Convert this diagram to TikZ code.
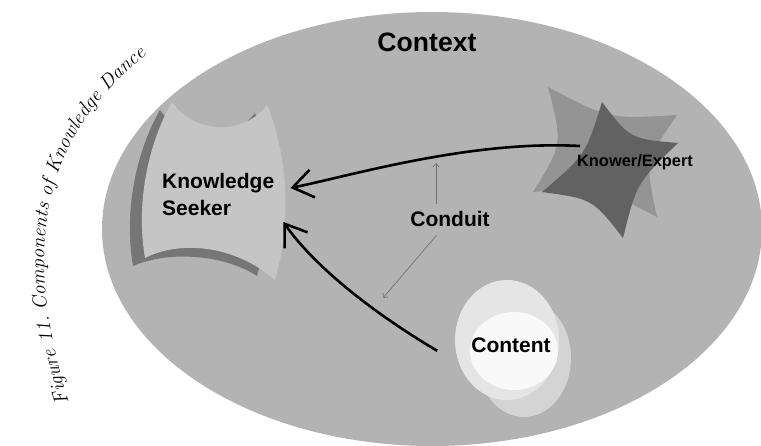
\documentclass[tikz,border=0pt]{standalone}
\usepackage{fontspec}
\setsansfont{Liberation Sans}
\usetikzlibrary{arrows.meta,decorations.text}

\definecolor{contextgray}{RGB}{179,179,179}
\definecolor{seekerlight}{RGB}{197,197,197}
\definecolor{seekerdark}{RGB}{118,118,118}
\definecolor{starlight}{RGB}{148,148,148}
\definecolor{stardark}{RGB}{98,98,98}
\definecolor{contentmid}{RGB}{212,212,212}
\definecolor{contentlight}{RGB}{229,229,229}
\definecolor{contentwhite}{RGB}{249,249,249}
\definecolor{conduitgray}{RGB}{115,115,115}

\newcommand\capfont{\fontsize{20}{20}\selectfont\itshape}

\begin{document}
\begin{tikzpicture}[x=1pt, y=-1pt,
    partlabel/.style={font=\sffamily\bfseries\fontsize{21}{27}\selectfont, inner sep=0pt},
    flow/.style={line width=2.6pt, -{Straight Barb[length=20pt, width=28pt]}},
    conduitarrow/.style={conduitgray, line width=0.7pt, -{Straight Barb[length=3.5pt, width=6pt]}}]
    \useasboundingbox (0,0) rectangle (761,446);

    % Draw the context ellipse
    \fill[contextgray] (432,229) ellipse [x radius=330, y radius=217];

    % Draw the seeker sheet (dark copy behind gives the rim)
    \fill[seekerdark] (160,110) .. controls (183,143) and (233,143) .. (255,113)
        .. controls (270,160) and (270,230) .. (257,276) .. controls (225,255) and (170,250) .. (133,266)
        .. controls (123,208) and (138,148) .. cycle;
    \fill[seekerlight] (172,102) .. controls (195,135) and (245,135) .. (267,105)
        .. controls (290,160) and (290,230) .. (275,280) .. controls (235,245) and (180,240) .. (145,258)
        .. controls (135,200) and (150,140) .. cycle;

    % Draw the two expert stars
    \fill[starlight] (548,87) .. controls (609.5,119.2) .. (677,115) .. controls (645,161.5) .. (657,217)
        .. controls (598.2,186.5) .. (533,192) .. controls (562.7,144.2) .. cycle;
    \fill[stardark] (602,102) .. controls (629.9,138.8) .. (678,143) .. controls (636.7,183) .. (623,238)
        .. controls (592.5,198.9) .. (542,192) .. controls (585.7,154.7) .. cycle;

    % Draw the content ellipses
    \fill[contentmid] (524,358) ellipse [x radius=47, y radius=59];
    \fill[contentlight] (507,340) ellipse [x radius=52, y radius=60];
    \fill[contentwhite] (514,351) ellipse [x radius=44, y radius=39];

    % Labels
    \node[partlabel, font=\sffamily\bfseries\fontsize{26.6}{30}\selectfont, anchor=base] (context) at (427,52) {Context};
    \node[partlabel, align=left, anchor=west] (seeker) at (162,194) {Knowledge\\Seeker};
    \node[partlabel, font=\sffamily\bfseries\fontsize{16.4}{20}\selectfont, anchor=base] (expert) at (635,167) {Knower/Expert};
    \node[partlabel, inner sep=8pt, anchor=base] (conduit) at (450,227) {Conduit};
    \node[partlabel, anchor=base] (content) at (511,353) {Content};

    % Flows into the seeker
    \coordinate (expertout) at (580,146);
    \draw[flow] (expertout) .. controls (470,140) and (350,176) .. ([xshift=16pt, yshift=6pt]seeker.east);
    \draw[flow] ([xshift=-34pt, yshift=-5pt]content.west) .. controls (360,305) and (309,259) .. ([xshift=9pt, yshift=-28pt]seeker.east);

    % Conduit pointers
    \coordinate (conduitup) at (436,163);
    \coordinate (conduitdown) at (383,298);
    \draw[conduitarrow] (conduit.north -| conduitup) -- (conduitup);
    \draw[conduitarrow] (conduit) -- (conduitdown);

    % Caption along the left edge
    \capfont
    \path[decorate, decoration={text along path, text align=center,
        text={|\capfont|Figure 11. Components of Knowledge Dance}}]
        (74,418) .. controls (35,300) and (10,150) .. (160,45);
\end{tikzpicture}
\end{document}
